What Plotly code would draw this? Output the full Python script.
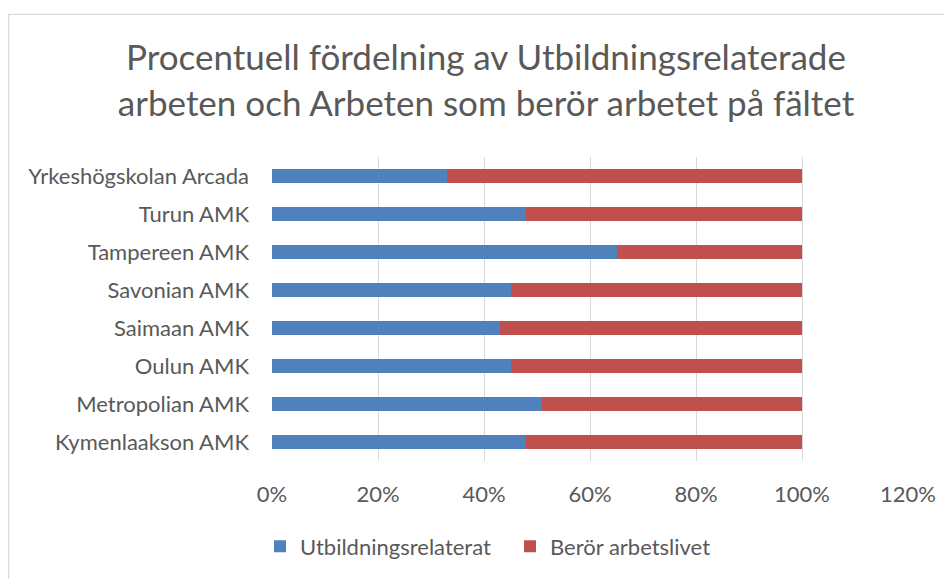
import plotly.graph_objects as go

categories = ["Kymenlaakson AMK", "Metropolian AMK", "Oulun AMK", "Saimaan AMK",
              "Savonian AMK", "Tampereen AMK", "Turun AMK", "Yrkeshögskolan Arcada"]
utbildningsrelaterat = [0.48, 0.51, 0.45, 0.43, 0.45, 0.65, 0.48, 0.33]
beror_arbetslivet = [0.52, 0.49, 0.55, 0.57, 0.55, 0.35, 0.52, 0.67]
tick_vals = [0, 0.2, 0.4, 0.6, 0.8, 1.0, 1.2]
tick_text = ["0%", "20%", "40%", "60%", "80%", "100%", "120%"]

# page is offset by the default 8px body margin
OFF = 8
W, H = 952 - OFF, 579 - OFF
L, R, T, B = 272 - OFF, 952 - 908, 157 - OFF, 579 - 463
pw, ph = W - L - R, H - T - B

font_fam = "Lato, 'Open Sans', sans-serif"
gray = "#595959"

fig = go.Figure()
fig.add_trace(go.Bar(y=categories, x=utbildningsrelaterat, orientation="h",
                     name="Utbildningsrelaterat", marker=dict(color="#4f81bd", line=dict(width=0))))
fig.add_trace(go.Bar(y=categories, x=beror_arbetslivet, orientation="h",
                     name="Berör arbetslivet", marker=dict(color="#c0504d", line=dict(width=0))))

def px2x(px):
    return (px - OFF - L) / pw

def py2y(py):
    return (H - B - (py - OFF)) / ph

fig.update_layout(
    width=W, height=H,
    margin=dict(l=L, r=R, t=T, b=B),
    barmode="stack", bargap=0.61,
    plot_bgcolor="white", paper_bgcolor="white",
    font=dict(family=font_fam, color=gray, size=22),
    title=dict(text="Procentuell fördelning av Utbildningsrelaterade<br>arbeten och Arbeten som berör arbetet på fältet",
               x=(486 - OFF) / W, xanchor="center", xref="container",
               y=1 - (70 - OFF) / H, yanchor="middle",
               font=dict(size=35, color=gray, family=font_fam)),
    xaxis=dict(range=[0, 1.2], tickvals=tick_vals, ticktext=tick_text,
               showgrid=True, gridcolor="#d9d9d9", gridwidth=1.2, zeroline=False,
               showline=False, ticks="", ticklabelstandoff=18,
               tickfont=dict(size=22, color=gray)),
    yaxis=dict(showgrid=False, zeroline=False, ticks="", ticklabelstandoff=22,
               tickfont=dict(size=22, color=gray)),
    legend=dict(orientation="h", x=px2x(260), xanchor="left", y=py2y(549), yanchor="middle",
                font=dict(size=22, color=gray), traceorder="normal",
                entrywidth=205, itemwidth=30,
                bgcolor="rgba(0,0,0,0)"),
    showlegend=True,
)

fig.add_shape(type="line", xref="paper", yref="paper",
              x0=px2x(8.5), x1=px2x(970), y0=py2y(13.5), y1=py2y(13.5),
              line=dict(color="#d9d9d9", width=1.3))
fig.add_shape(type="line", xref="paper", yref="paper",
              x0=px2x(8.6), x1=px2x(8.6), y0=py2y(13.5), y1=py2y(600),
              line=dict(color="#d9d9d9", width=1.3))

fig.write_html("out.html")
